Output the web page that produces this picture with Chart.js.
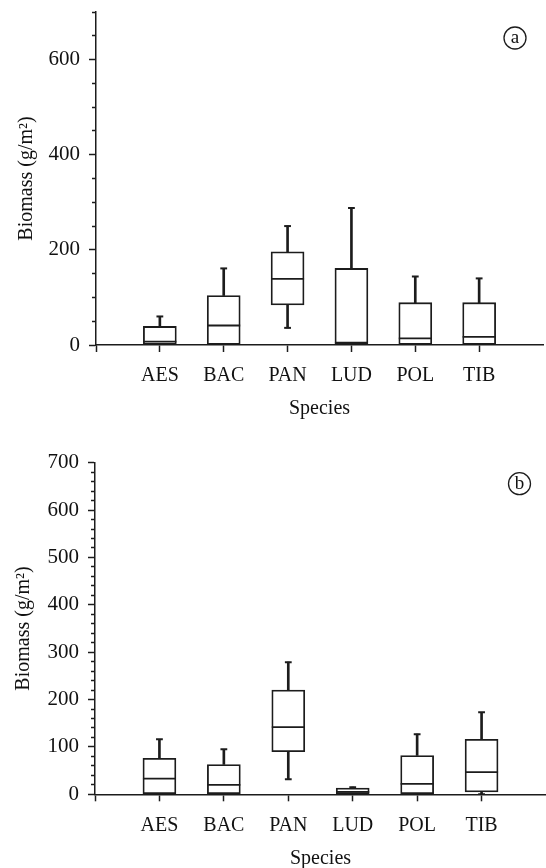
<!DOCTYPE html>
<html><head><meta charset="utf-8">
<script src="https://cdn.jsdelivr.net/npm/chart.js@4"></script>
<style>
html,body{margin:0;padding:0;background:#fff;}
#wrap{position:relative;width:546px;height:868px;overflow:hidden;}
canvas{position:absolute;left:0;display:block;}
</style></head><body>
<div id="wrap">
<canvas id="ca" width="546" height="420" style="top:0"></canvas>
<canvas id="cb" width="546" height="448" style="top:420px"></canvas>
</div>
<script>
// ---- data ----
const species = ['AES', 'BAC', 'PAN', 'LUD', 'POL', 'TIB'];

// panel (a)
const aMin = [0, 0, 36, 0, 0, 0];
const aQ1  = [0, 0, 84, 0, 0, 0];
const aMed = [7, 41, 139, 5, 14, 17];
const aQ3  = [39, 104, 196, 161, 89, 89];
const aMax = [60, 161, 250, 288, 144, 140];
const aTickStep = 50;    // tick marks
const aLabelStep = 200;  // labelled ticks

// panel (b)
const bMin = [0, 0, 32, 0, 0, 0];
const bQ1  = [0, 0, 90, 0, 0, 5];
const bMed = [33, 20, 142, 5, 22, 47];
const bQ3  = [76, 63, 220, 13, 82, 116];
const bMax = [116, 95, 279, 15, 127, 173];
const bTickStep = 20;
const bLabelStep = 100;

const yMax = 700;
const INK = '#1c1c1c';
const SERIF = '"Liberation Serif", "Times New Roman", serif';

const panelLabel = {
  id: 'panelLabel',
  afterDraw(chart, args, opts) {
    const {ctx, chartArea} = chart;
    const x = chartArea.right - opts.dx, y = chartArea.top + opts.dy;
    ctx.save();
    ctx.beginPath();
    ctx.arc(x, y, opts.r, 0, Math.PI * 2);
    ctx.lineWidth = 1.3;
    ctx.strokeStyle = INK;
    ctx.stroke();
    ctx.font = '19px ' + SERIF;
    ctx.textAlign = 'center';
    ctx.textBaseline = 'middle';
    ctx.fillStyle = '#111';
    ctx.fillText(opts.text, x, y);
    ctx.restore();
  }
};

function makeChart(id, mins, q1s, meds, q3s, maxs, tickStep, labelStep, L) {
  const pts = (arr) => arr.map((v, i) => ({x: i + 1, y: v}));
  const rng = (lo, hi) => lo.map((v, i) => ({x: i + 1, y: [v, hi[i]]}));
  const whisker = {
    type: 'bar', grouped: false, barThickness: 2, backgroundColor: INK,
    borderWidth: 0, order: 3
  };
  return new Chart(document.getElementById(id), {
    type: 'bar',
    data: {
      datasets: [
        Object.assign({data: rng(q3s, maxs)}, whisker),
        Object.assign({data: rng(mins, q1s)}, whisker),
        {
          type: 'bar', data: rng(q1s, q3s), grouped: false, barThickness: 33,
          backgroundColor: '#ffffff', borderColor: INK, borderWidth: 1.8,
          borderSkipped: false, order: 2
        },
        {
          type: 'line', data: pts(meds), showLine: false, pointStyle: 'line',
          pointRadius: 16.5, pointBorderWidth: 1.8, pointBorderColor: INK,
          pointBackgroundColor: INK, order: 1
        },
        {
          type: 'line', data: pts(maxs).concat(pts(mins)), showLine: false,
          pointStyle: 'line', pointRadius: 3.4, pointBorderWidth: 2,
          pointBorderColor: INK, pointBackgroundColor: INK, order: 1
        }
      ]
    },
    options: {
      responsive: false,
      animation: false,
      events: [],
      layout: {autoPadding: false, padding: {left: 0, top: L.top, right: L.right, bottom: 0}},
      plugins: {
        legend: {display: false},
        tooltip: {enabled: false},
        panelLabel: {text: L.text, dx: L.dx, dy: L.dy, r: 11}
      },
      scales: {
        x: {
          type: 'linear', min: 0, max: species.length + 1, offset: false,
          afterBuildTicks: (s) => { s.ticks = [0].concat(species.map((n, i) => i + 1)).map(v => ({value: v})); },
          afterFit: (s) => { s.height = L.xHeight; s.paddingLeft = 0; s.paddingRight = 0; },
          grid: {display: true, drawOnChartArea: false, drawTicks: true, tickLength: 7,
                 tickColor: INK, tickWidth: 1.5, offset: false},
          border: {display: true, color: INK, width: 1.5},
          ticks: {
            autoSkip: false, maxRotation: 0, padding: L.xPad,
            color: '#111', font: {family: SERIF, size: 20},
            callback: (v) => species[v - 1] || ''
          },
          title: {display: true, text: 'Species', color: '#111',
                  font: {family: SERIF, size: 20}, padding: {top: 0, bottom: L.xTitlePad}}
        },
        y: {
          type: 'linear', min: 0, max: yMax,
          afterFit: (s) => { s.width = L.yWidth; s.paddingTop = 0; s.paddingBottom = 0; },
          grid: {display: true, drawOnChartArea: false, drawTicks: true, tickLength: 7,
                 tickColor: INK, tickWidth: 1.5,
                 tickBorderDash: (c) => (c.tick && c.tick.value % labelStep === 0) ? [] : [0, 3, 4, 100]},
          border: {display: true, color: INK, width: 1.5},
          ticks: {
            stepSize: tickStep, maxTicksLimit: 1000, autoSkip: false, padding: 9,
            color: '#111', font: {family: SERIF, size: 21},
            callback: (v) => (v % labelStep === 0 ? String(v) : '')
          },
          title: {display: true, text: 'Biomass (g/m²)', color: '#111',
                  font: {family: SERIF, size: 20}, padding: {top: L.yTitlePad, bottom: 0}}
        }
      }
    },
    plugins: [panelLabel]
  });
}

makeChart('ca', aMin, aQ1, aMed, aQ3, aMax, aTickStep, aLabelStep,
  {text: 'a', top: 12, right: 3, yWidth: 96, xHeight: 75, xPad: 12, xTitlePad: -0.5, yTitlePad: 15, dx: 28, dy: 26});
makeChart('cb', bMin, bQ1, bMed, bQ3, bMax, bTickStep, bLabelStep,
  {text: 'b', top: 42.7, right: 0, yWidth: 95, xHeight: 73.7, xPad: 12, xTitlePad: -3, yTitlePad: 11.5, dx: 26.5, dy: 21});
</script>
</body></html>
